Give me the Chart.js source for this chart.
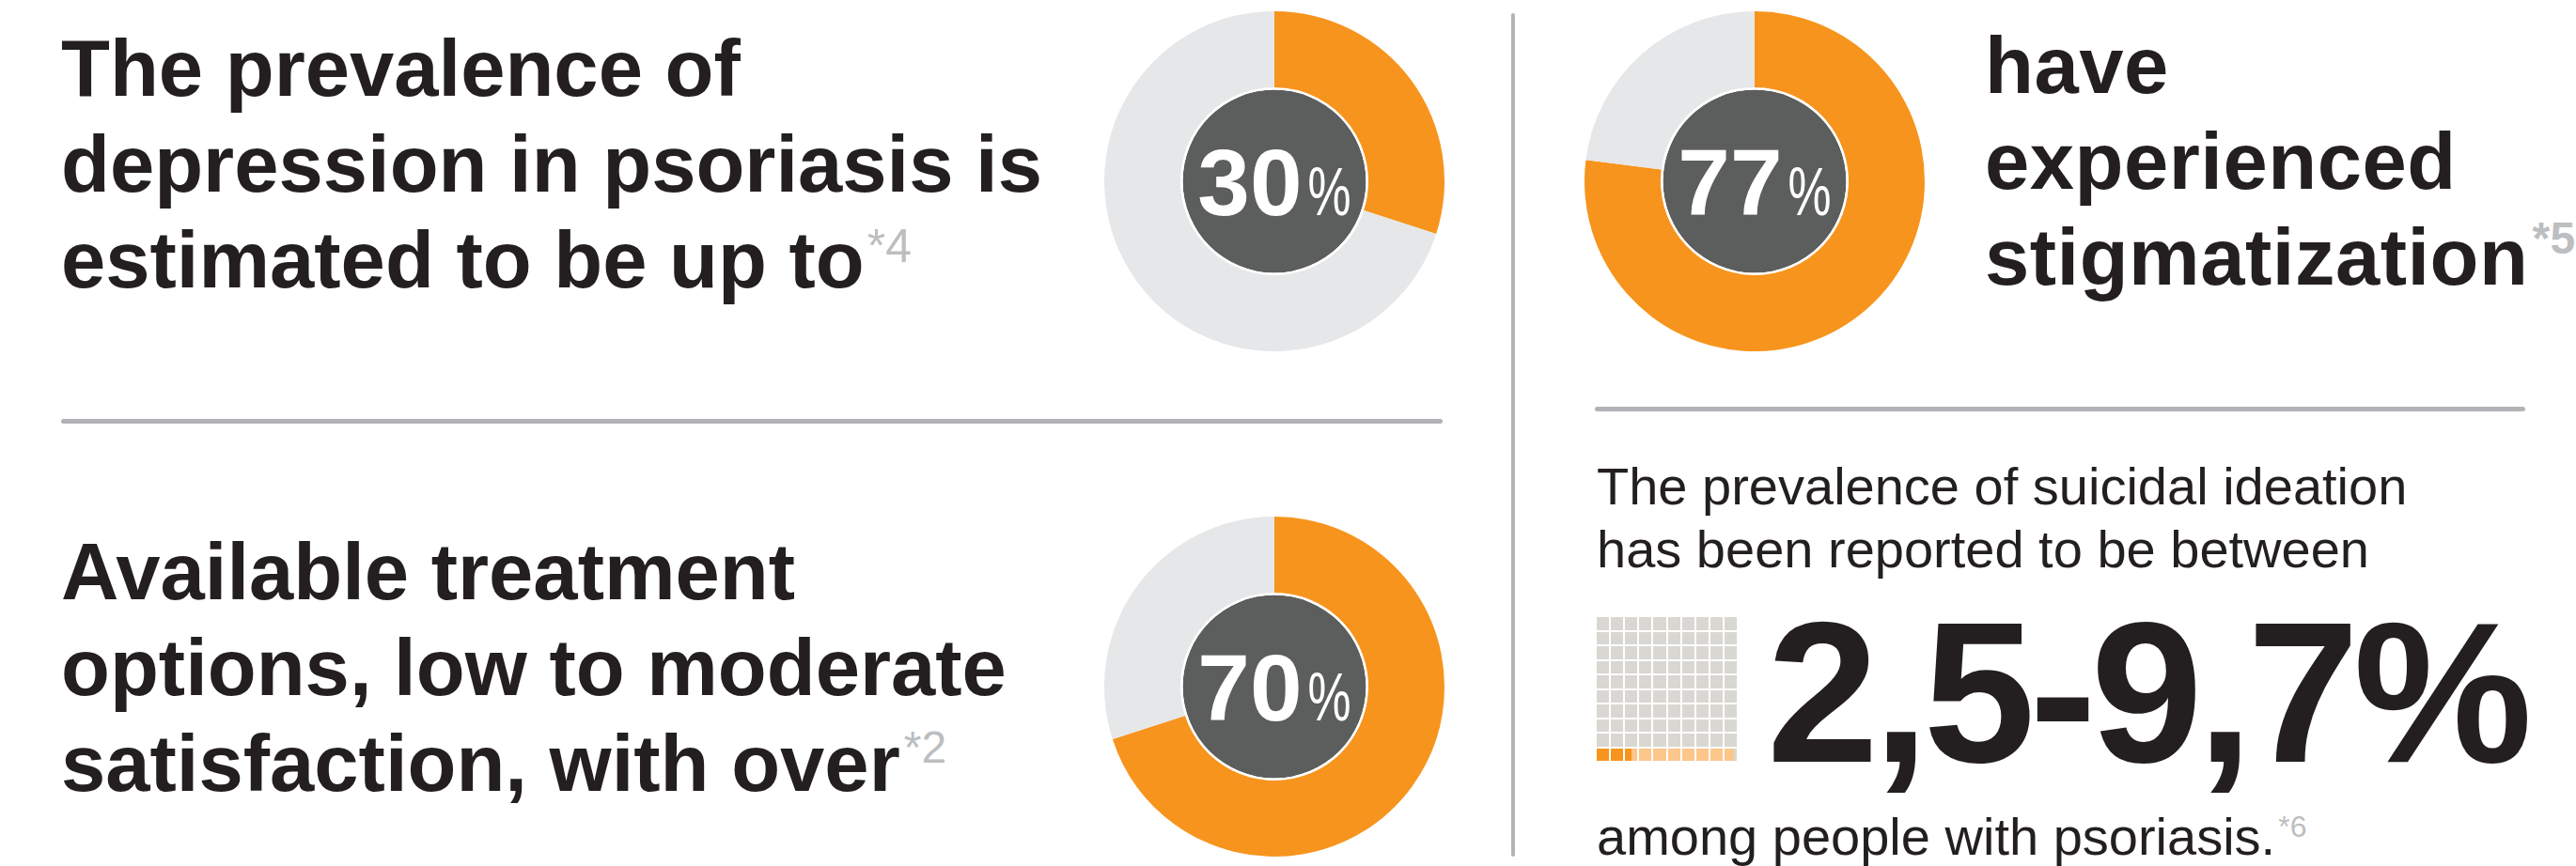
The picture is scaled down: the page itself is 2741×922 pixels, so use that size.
<!DOCTYPE html>
<html>
<head>
<meta charset="utf-8">
<script src="https://cdn.jsdelivr.net/npm/chart.js@4.4.0/dist/chart.umd.min.js"></script>
<style>
  html, body { margin: 0; padding: 0; background: #fff; }
  body { position: relative; width: 2741px; height: 922px; overflow: hidden;
         font-family: "Liberation Sans", Arial, sans-serif; color: #231f20; }
  .abs { position: absolute; }
  .head { font-weight: bold; font-size: 85px; line-height: 102px; white-space: nowrap; }
  .body { font-size: 56px; line-height: 67px; white-space: nowrap; }
  .sup { position: relative; line-height: 0; color: #bcbec0; }
  .rule { position: absolute; background: #b1b3b6; border-radius: 3px; }
  canvas { position: absolute; }
</style>
</head>
<body>

<div class="abs head" style="left:65px; top:22px;">The prevalence of<br>depression in psoriasis is<br>estimated to be up to<span class="sup" style="font-size:50px; font-weight:normal; top:-27px; margin-left:3px;">*4</span></div>

<div class="abs head" style="left:65px; top:558px;">Available treatment<br>options, low to moderate<br>satisfaction, with over<span class="sup" style="font-size:48px; font-weight:normal; top:-30px; margin-left:4px;">*2</span></div>

<div class="abs head" style="left:2112px; top:19px; letter-spacing:0.5px;">have<br>experienced<br>stigmatization<span class="sup" style="font-size:48px; top:-33px; margin-left:4px;">*5</span></div>

<div class="abs body" style="left:1699px; top:484px;">The prevalence of suicidal ideation<br>has been reported to be between</div>

<div class="abs" style="left:1880px; top:630px; font-size:214px; line-height:214px; font-weight:bold; letter-spacing:-6px; white-space:nowrap;">2,5-9,7%</div>

<div class="abs body" style="left:1699px; top:857px;">among people with psoriasis.<span class="sup" style="font-size:32px; top:-19px; margin-left:3px;">*6</span></div>

<div class="rule" style="left:65px; top:446px; width:1470px; height:5px;"></div>
<div class="rule" style="left:1697px; top:433px; width:990px; height:5px;"></div>
<div class="rule" style="left:1608px; top:14px; width:4px; height:898px;"></div>

<canvas id="donutDepression" width="362" height="362" style="left:1175px; top:12px;"></canvas>
<canvas id="donutSatisfaction" width="362" height="362" style="left:1175px; top:550px;"></canvas>
<canvas id="donutStigma" width="362" height="362" style="left:1686px; top:12px;"></canvas>
<canvas id="waffle" width="151" height="155" style="left:1698px; top:656px;"></canvas>

<script>
// donut shares (highlighted, rest)
const depressionShare = [30, 70];
const satisfactionShare = [70, 30];
const stigmaShare = [77, 23];

// waffle: 10 rows of 10 cells, bottom row holds the 2.5 - 9.7 % range
const waffleRows = ['1', '2', '3', '4', '5', '6', '7', '8', '9', '10'];
const lowEstimate = [0, 0, 0, 0, 0, 0, 0, 0, 0, 2.5];
const upToHigh = [0, 0, 0, 0, 0, 0, 0, 0, 0, 7.2];
const restOfRow = [10, 10, 10, 10, 10, 10, 10, 10, 10, 0.3];

const ORANGE = '#f7941d';
const LIGHT_ORANGE = '#fdc68a';
const RING_GREY = '#e6e7e8';
const CENTER_GREY = '#5c5e5d';

const centerLabel = {
    id: 'centerLabel',
    afterDraw(chart) {
        const ctx = chart.ctx;
        const arc = chart.getDatasetMeta(0).data[0];
        const value = String(chart.data.datasets[0].data[0]);
        const pctScale = 0.72;
        ctx.save();
        ctx.fillStyle = '#fff';
        ctx.textBaseline = 'alphabetic';
        ctx.font = 'bold 100px "Liberation Sans", Arial, sans-serif';
        const wNum = ctx.measureText(value).width;
        ctx.font = '72px "Liberation Sans", Arial, sans-serif';
        const wPct = ctx.measureText('%').width * pctScale;
        const gap = 6;
        const x = arc.x - (wNum + gap + wPct) / 2;
        const y = arc.y + 36;
        ctx.font = 'bold 100px "Liberation Sans", Arial, sans-serif';
        ctx.fillText(value, x, y);
        ctx.translate(x + wNum + gap, y);
        ctx.scale(pctScale, 1);
        ctx.font = '72px "Liberation Sans", Arial, sans-serif';
        ctx.fillText('%', 0, 0);
        ctx.restore();
    }
};

function makeDonut(id, share) {
    new Chart(document.getElementById(id), {
        type: 'doughnut',
        data: {
            labels: ['share', 'rest'],
            datasets: [
                { data: share, backgroundColor: [ORANGE, RING_GREY], weight: 81 },
                { data: [1], backgroundColor: ['#ffffff'], weight: 2.5 },
                { data: [1], backgroundColor: [CENTER_GREY], weight: 97.5 }
            ]
        },
        options: {
            responsive: false,
            animation: false,
            events: [],
            cutout: 0,
            layout: { padding: 0 },
            elements: { arc: { borderWidth: 0, offset: 0, hoverOffset: 0 } },
            plugins: { legend: { display: false }, tooltip: { enabled: false } }
        },
        plugins: [centerLabel]
    });
}

makeDonut('donutDepression', depressionShare);
makeDonut('donutSatisfaction', satisfactionShare);
makeDonut('donutStigma', stigmaShare);

new Chart(document.getElementById('waffle'), {
    type: 'bar',
    data: {
        labels: waffleRows,
        datasets: [
            { data: lowEstimate, backgroundColor: ORANGE },
            { data: upToHigh, backgroundColor: LIGHT_ORANGE },
            { data: restOfRow, backgroundColor: '#d9d7d1' }
        ]
    },
    options: {
        indexAxis: 'y',
        responsive: false,
        animation: false,
        events: [],
        layout: { padding: 0 },
        datasets: { bar: { categoryPercentage: 1, barPercentage: 1, borderWidth: 0 } },
        scales: {
            x: {
                stacked: true, min: 0, max: 10,
                ticks: { display: false, stepSize: 1 },
                grid: { color: '#ffffff', lineWidth: 2, drawTicks: false, z: 1 },
                border: { display: false }
            },
            y: {
                stacked: true,
                ticks: { display: false },
                grid: { color: '#ffffff', lineWidth: 2, drawTicks: false, offset: true, z: 1 },
                border: { display: false }
            }
        },
        plugins: { legend: { display: false }, tooltip: { enabled: false } }
    }
});
</script>
</body>
</html>
